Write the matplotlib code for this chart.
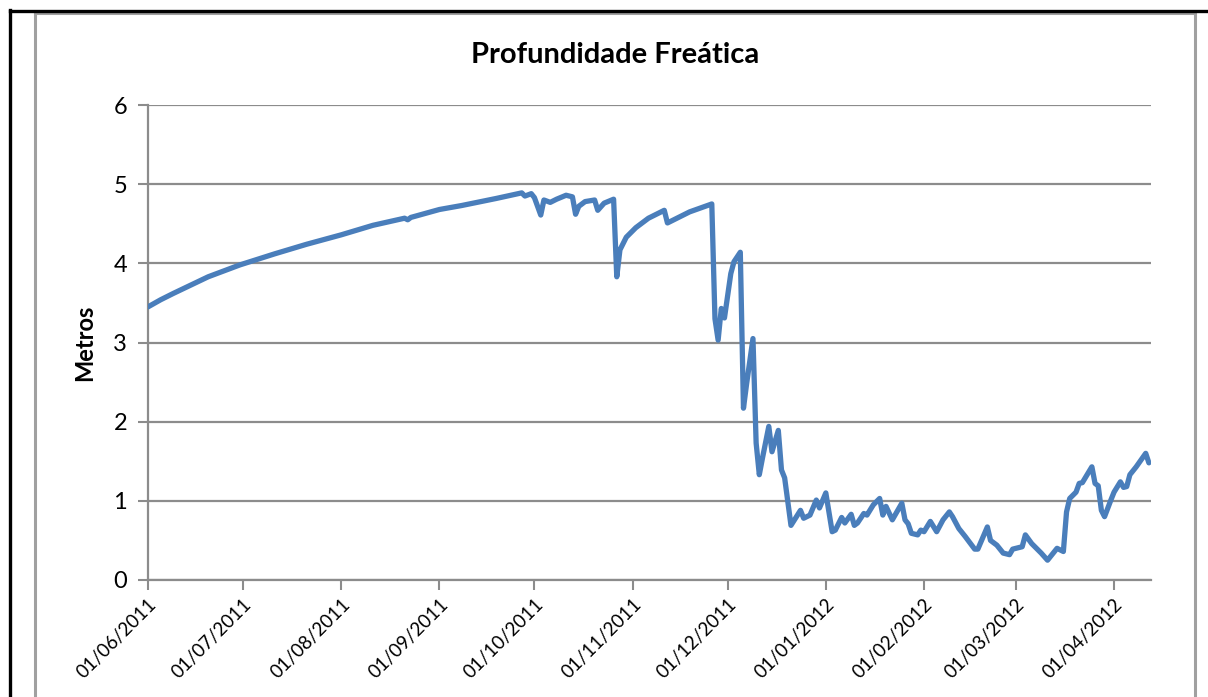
import matplotlib
matplotlib.use("Agg")
import matplotlib.pyplot as plt
import matplotlib.dates as mdates
from matplotlib.lines import Line2D
import pandas as pd

plt.rcParams['font.family'] = ['Lato', 'DejaVu Sans']

title = "Profundidade Freática"
ylabel = "Metros"

dates = [
    "2011-06-01", "2011-06-05", "2011-06-09", "2011-06-20", "2011-06-30", "2011-07-11", "2011-07-21",
    "2011-08-01", "2011-08-11", "2011-08-21", "2011-08-22", "2011-08-23", "2011-09-01",
    "2011-09-08", "2011-09-19", "2011-09-27", "2011-09-28", "2011-09-30", "2011-10-01",
    "2011-10-03", "2011-10-04", "2011-10-06", "2011-10-08", "2011-10-11", "2011-10-13",
    "2011-10-14", "2011-10-15", "2011-10-17", "2011-10-20", "2011-10-21", "2011-10-23",
    "2011-10-26", "2011-10-27", "2011-10-28", "2011-10-30", "2011-11-02", "2011-11-06",
    "2011-11-11", "2011-11-12", "2011-11-15", "2011-11-19", "2011-11-26", "2011-11-27",
    "2011-11-28", "2011-11-29", "2011-11-30", "2011-12-02", "2011-12-03", "2011-12-05",
    "2011-12-06", "2011-12-07", "2011-12-09", "2011-12-10", "2011-12-11", "2011-12-12",
    "2011-12-14", "2011-12-15", "2011-12-17", "2011-12-18", "2011-12-19", "2011-12-21",
    "2011-12-24", "2011-12-25", "2011-12-27", "2011-12-29", "2011-12-30", "2012-01-01",
    "2012-01-03", "2012-01-04", "2012-01-06", "2012-01-07", "2012-01-09", "2012-01-10",
    "2012-01-11", "2012-01-13", "2012-01-14", "2012-01-16", "2012-01-18", "2012-01-19",
    "2012-01-20", "2012-01-22", "2012-01-25", "2012-01-26", "2012-01-27", "2012-01-28",
    "2012-01-30", "2012-01-31", "2012-02-01", "2012-02-03", "2012-02-05", "2012-02-07",
    "2012-02-09", "2012-02-10", "2012-02-12", "2012-02-14", "2012-02-17", "2012-02-18",
    "2012-02-21", "2012-02-22", "2012-02-24", "2012-02-26", "2012-02-28", "2012-02-29",
    "2012-03-03", "2012-03-04", "2012-03-06", "2012-03-09", "2012-03-11", "2012-03-14",
    "2012-03-16", "2012-03-17", "2012-03-18", "2012-03-20", "2012-03-21", "2012-03-22",
    "2012-03-25", "2012-03-26", "2012-03-27", "2012-03-28", "2012-03-29", "2012-03-31",
    "2012-04-01", "2012-04-03", "2012-04-04", "2012-04-05", "2012-04-06", "2012-04-08",
    "2012-04-11", "2012-04-12",
]

depth = [
    3.45, 3.54, 3.62, 3.83, 3.98, 4.12, 4.24,
    4.36, 4.48, 4.57, 4.55, 4.58, 4.68,
    4.73, 4.82, 4.89, 4.85, 4.88, 4.83,
    4.61, 4.80, 4.77, 4.81, 4.86, 4.84,
    4.62, 4.72, 4.78, 4.80, 4.67, 4.76,
    4.81, 3.83, 4.17, 4.33, 4.45, 4.57,
    4.67, 4.51, 4.57, 4.65, 4.75, 3.30,
    3.03, 3.43, 3.31, 3.87, 4.02, 4.14,
    2.17, 2.48, 3.05, 1.73, 1.33, 1.54,
    1.94, 1.62, 1.89, 1.39, 1.29, 0.69,
    0.88, 0.78, 0.82, 1.01, 0.91, 1.10,
    0.61, 0.63, 0.79, 0.72, 0.83, 0.69,
    0.72, 0.84, 0.82, 0.95, 1.03, 0.82,
    0.93, 0.76, 0.97, 0.76, 0.71, 0.59,
    0.57, 0.63, 0.61, 0.74, 0.61, 0.76,
    0.86, 0.80, 0.65, 0.55, 0.39, 0.39,
    0.67, 0.50, 0.44, 0.34, 0.32, 0.39,
    0.42, 0.57, 0.46, 0.34, 0.25, 0.40,
    0.36, 0.86, 1.03, 1.11, 1.22, 1.23,
    1.43, 1.22, 1.19, 0.88, 0.80, 1.01,
    1.11, 1.24, 1.17, 1.18, 1.33, 1.43,
    1.60, 1.48,
]

tick_dates = ["2011-06-01", "2011-07-01", "2011-08-01", "2011-09-01", "2011-10-01",
              "2011-11-01", "2011-12-01", "2012-01-01", "2012-02-01", "2012-03-01",
              "2012-04-01"]
tick_labels = ["01/06/2011", "01/07/2011", "01/08/2011", "01/09/2011", "01/10/2011",
               "01/11/2011", "01/12/2011", "01/01/2012", "01/02/2012", "01/03/2012",
               "01/04/2012"]
y_ticks = [0, 1, 2, 3, 4, 5, 6]

W, H = 1208, 697
fig = plt.figure(figsize=(W / 100, H / 100), dpi=100)

def fx(px): return px / W
def fy(py): return 1 - py / H

# page / chart frames
fig.add_artist(Line2D([fx(35), fx(35)], [fy(13), fy(700)], color="#a0a0a0", lw=2.2,
                      transform=fig.transFigure))
fig.add_artist(Line2D([fx(35), fx(1195)], [fy(13), fy(13)], color="#a0a0a0", lw=2.2,
                      transform=fig.transFigure))
fig.add_artist(Line2D([fx(1195), fx(1195)], [fy(13), fy(700)], color="#a0a0a0", lw=2.2,
                      transform=fig.transFigure))
fig.add_artist(Line2D([fx(10), fx(1210)], [fy(11), fy(11)], color="black", lw=2.4,
                      transform=fig.transFigure))
fig.add_artist(Line2D([fx(10), fx(10)], [fy(10), fy(700)], color="black", lw=2.4,
                      transform=fig.transFigure))

ax = fig.add_axes([148 / W, 1 - 580 / H, (1151 - 148) / W, (580 - 105) / H])

x = pd.to_datetime(dates)
ax.plot(x, depth, color="#4a7ebb", lw=3.8, solid_joinstyle="round",
        solid_capstyle="round", zorder=3)

ax.set_ylim(0, 6)
ax.set_yticks(y_ticks)
ax.set_xlim(pd.Timestamp("2011-06-01"), pd.Timestamp("2012-04-12 16:00"))
ax.set_xticks(pd.to_datetime(tick_dates))
ax.set_xticklabels(tick_labels, rotation=45, ha="right", rotation_mode="anchor",
                   fontsize=13.5)
ax.tick_params(axis="x", length=7, width=1.5, color="#8c8c8c", pad=4)
ax.tick_params(axis="y", length=7, width=1.5, color="#8c8c8c", labelsize=17, pad=8)

ax.grid(axis="y", color="#8c8c8c", lw=1.6)
ax.set_axisbelow(True)
for s in ["top", "right"]:
    ax.spines[s].set_visible(False)
for s in ["left", "bottom"]:
    ax.spines[s].set_color("#8c8c8c")
    ax.spines[s].set_linewidth(1.6)

ax.set_ylabel(ylabel, fontsize=17, fontweight="bold", labelpad=12)
fig.text(615 / W, 1 - 55 / H, title, ha="center", va="center", fontsize=21,
         fontweight="bold")

fig.savefig("out.png", dpi=100)
